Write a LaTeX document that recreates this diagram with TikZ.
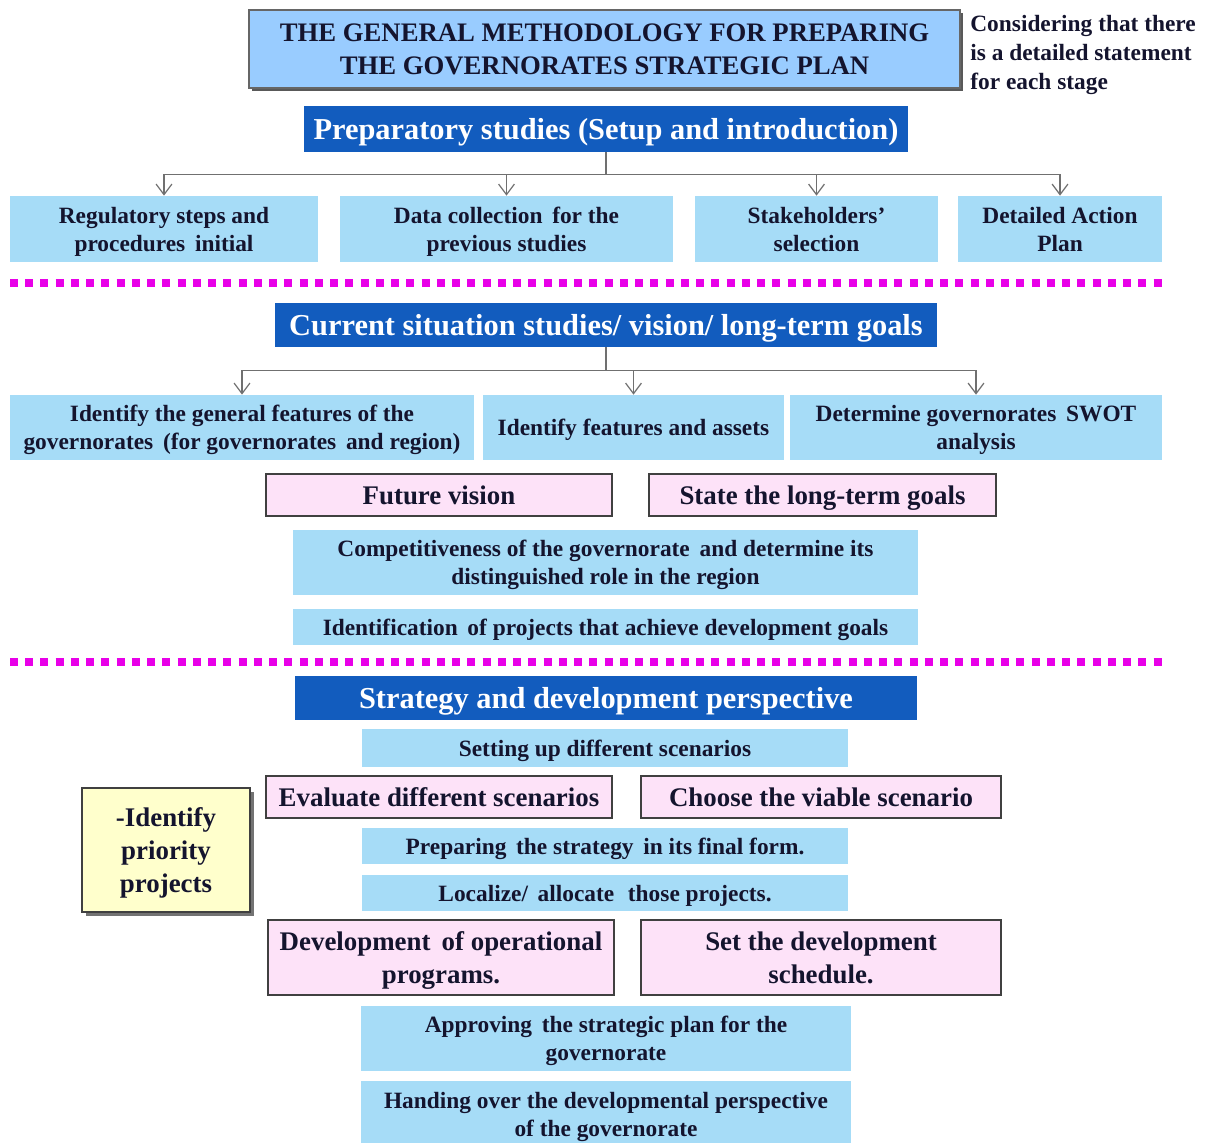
\documentclass[tikz,border=0pt]{standalone}
\usepackage{fontspec}
\setmainfont{Liberation Serif}
\usetikzlibrary{arrows.meta,shadows}

\definecolor{hdrblue}{RGB}{18,92,190}
\definecolor{boxblue}{RGB}{166,220,247}
\definecolor{titleblue}{RGB}{153,204,255}
\definecolor{boxpink}{RGB}{253,226,248}
\definecolor{boxyellow}{RGB}{255,255,204}
\definecolor{inknavy}{RGB}{20,20,46}
\definecolor{linegray}{RGB}{112,112,112}
\definecolor{dotmag}{RGB}{232,0,232}

\tikzset{
  wh/.style 2 args={minimum width=#1*0.02cm, minimum height=#2*0.02cm},
  base/.style={inner sep=0pt, align=center, text=inknavy, text depth=0pt,
    font=\bfseries\fontsize{13.3}{16}\selectfont},
  lbox/.style={base, fill=boxblue},
  hdr/.style={base, fill=hdrblue, text=white,
    font=\bfseries\fontsize{17.3}{20}\selectfont},
  pbox/.style={base, fill=boxpink, draw=black!75, line width=1.1pt,
    font=\bfseries\fontsize{15.3}{18.7}\selectfont},
  tbox/.style={base, fill=titleblue, draw=black!60, line width=1pt,
    drop shadow={shadow xshift=0.06cm, shadow yshift=-0.06cm, fill=black!65, opacity=1},
    font=\bfseries\fontsize{15.2}{18.4}\selectfont},
  ybox/.style={pbox, fill=boxyellow,
    drop shadow={shadow xshift=0.07cm, shadow yshift=-0.07cm, fill=black!55, opacity=1}},
  note/.style={inner sep=0pt, align=left, text=inknavy,
    font=\bfseries\fontsize{13.3}{16.5}\selectfont},
  link/.style={draw=linegray, line width=0.7pt},
  dotsep/.style={draw=dotmag, line width=0.16cm, dash pattern=on 0.16cm off 0.145cm}
}

\begin{document}
\begin{tikzpicture}[x=0.02cm, y=-0.02cm, >={Straight Barb[length=6pt,width=9pt]}]
\useasboundingbox (0,0) rectangle (1209,1142);

% title and remark
\node[tbox, wh={711}{78}] (title) at (604.5,49) {THE GENERAL METHODOLOGY FOR PREPARING\\THE GOVERNORATES STRATEGIC PLAN};
\node[note, anchor=north west] (note) at (970,15) {Considering that there\\is a detailed statement\\for each stage};

% stage 1
\node[hdr, wh={604}{46}] (prep) at (606,129) {Preparatory studies (Setup and introduction)};
\node[lbox, wh={308}{66}] (reg) at (164,229) {Regulatory steps and\\procedures\, initial};
\node[lbox, wh={333}{66}] (data) at (506.5,229) {Data collection\, for the\\previous studies};
\node[lbox, wh={243}{66}] (stake) at (816.5,229) {Stakeholders'\\selection};
\node[lbox, wh={204}{66}] (plan) at (1060,229) {Detailed Action\\Plan};

\path (prep.south) ++(0,22) coordinate (bus1);
\draw[link] (prep.south) -- (bus1);
\foreach \n in {reg,data,stake,plan}
  \draw[link,->] (bus1) -| (\n.north);

\coordinate (s1a) at (10,283);
\coordinate (s1b) at (1162,283);
\draw[dotsep] (s1a) -- (s1b);

% stage 2
\node[hdr, wh={662}{44}] (cur) at (606,325) {Current situation studies/ vision/ long-term goals};
\node[lbox, wh={464}{65}] (feat) at (242,427.5) {Identify the general features of the\\governorates\, (for governorates\, and region)};
\node[lbox, wh={301}{65}] (assets) at (633.5,427.5) {Identify features and assets};
\node[lbox, wh={372}{65}] (swot) at (976,427.5) {Determine governorates\, SWOT\\analysis};

\path (cur.south) ++(0,23) coordinate (bus2);
\draw[link] (cur.south) -- (bus2);
\foreach \n in {feat,assets,swot}
  \draw[link,->] (bus2) -| (\n.north);

\node[pbox, wh={346}{42}] (vision) at (439,495) {Future vision};
\node[pbox, wh={347}{42}] (goals) at (822.5,495) {State the long-term goals};
\node[lbox, wh={625}{65}] (compet) at (605.5,562.5) {Competitiveness of the governorate\, and determine its\\distinguished role in the region};
\node[lbox, wh={625}{36}] (ident) at (605.5,627) {Identification\, of projects that achieve development goals};

\coordinate (s2a) at (10,662);
\coordinate (s2b) at (1162,662);
\draw[dotsep] (s2a) -- (s2b);

% stage 3
\node[hdr, wh={622}{44}] (strat) at (606,698) {Strategy and development perspective};
\node[lbox, wh={486}{38}] (setup) at (605,748) {Setting up different scenarios};
\node[pbox, wh={346}{42}] (eval) at (439,797) {Evaluate different scenarios};
\node[pbox, wh={360}{42}] (choose) at (821,797) {Choose the viable scenario};
\node[ybox, wh={168}{124}] (prio) at (166,850) {-Identify\\priority\\projects};
\node[lbox, wh={486}{36}] (final) at (605,846) {Preparing\, the strategy\, in its final form.};
\node[lbox, wh={486}{36}] (local) at (605,893) {Localize/\, allocate\,\, those projects.};
\node[pbox, wh={346}{75}] (oper) at (441,957.5) {Development\, of operational\\programs.};
\node[pbox, wh={360}{75}] (sched) at (821,957.5) {Set the development\\schedule.};
\node[lbox, wh={490}{65}] (approve) at (606,1038.5) {Approving\, the strategic plan for the\\governorate};
\node[lbox, wh={490}{66}] (hand) at (606,1114) {Handing over the developmental perspective\\of the governorate};
\end{tikzpicture}
\end{document}
